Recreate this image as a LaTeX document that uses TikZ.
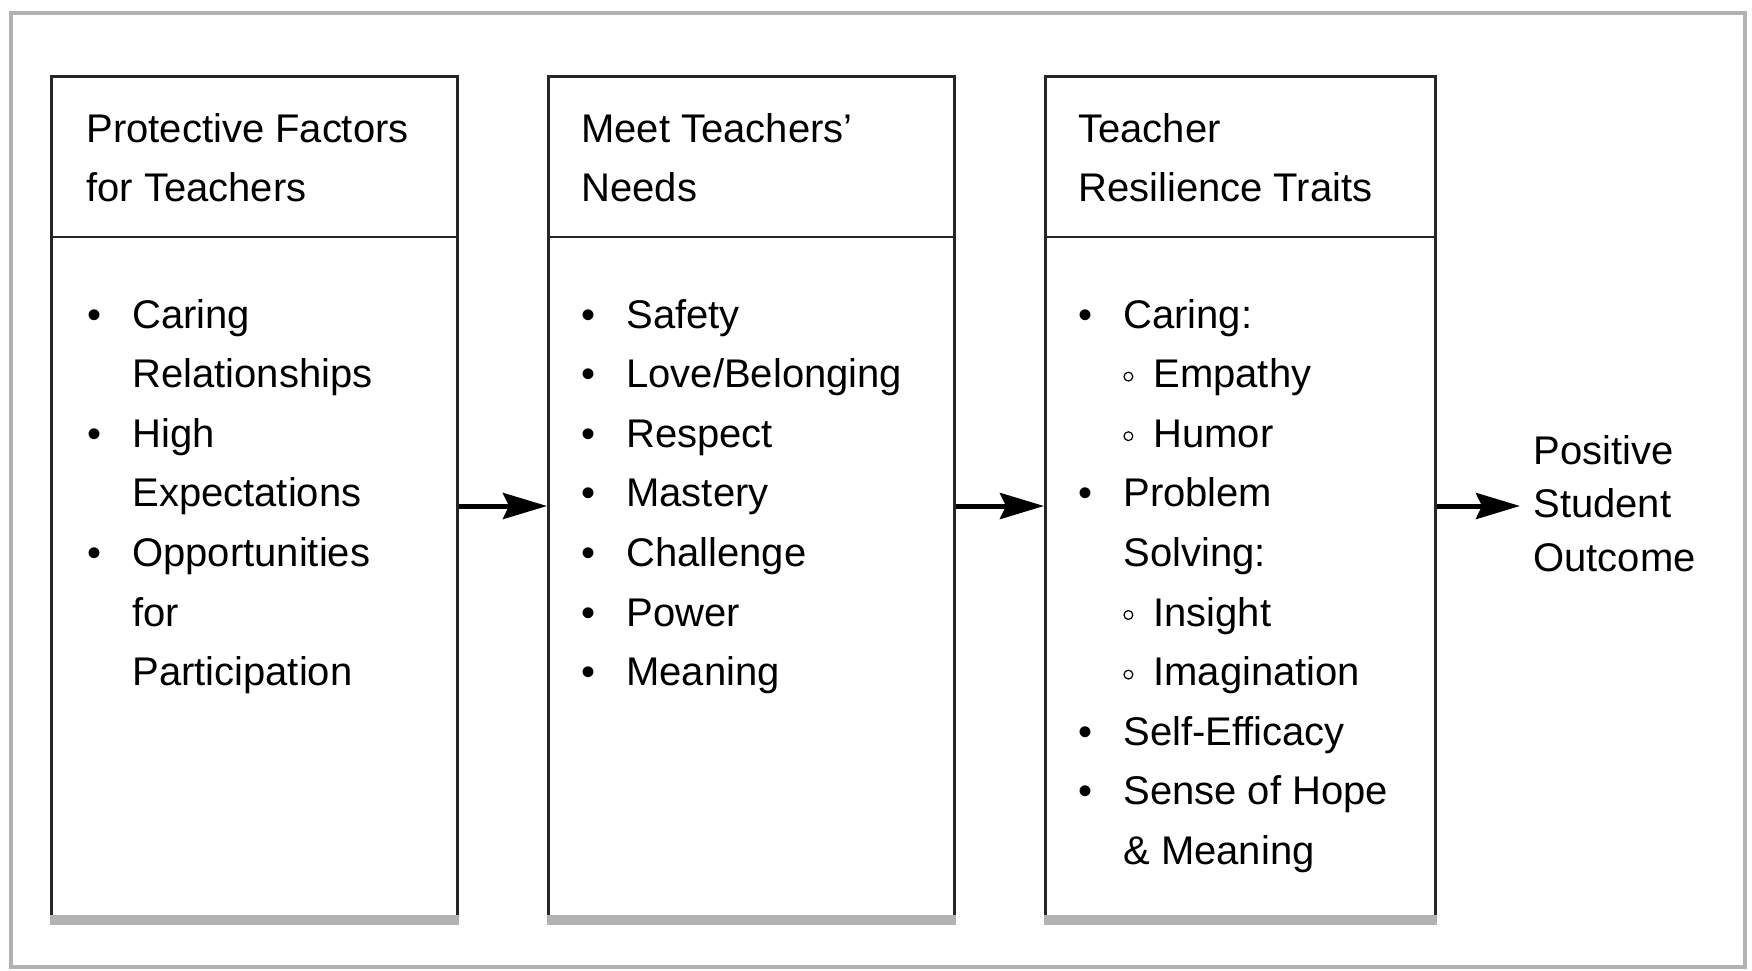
\documentclass[tikz,border=0pt]{standalone}
\usepackage{fontspec}
\setmainfont{Liberation Sans}
\usetikzlibrary{arrows.meta}
\newcommand\mybul{\makebox[19pt][l]{\hspace{-3.5pt}\textbullet}}
\newcommand\subbul{\makebox[15pt][l]{\tikz[baseline=0pt]\draw[line width=0.6pt] (2.5pt,5.5pt) circle (2.2pt);}}
\begin{document}
\begin{tikzpicture}[x=0.5pt,y=-0.5pt,
  frame/.style={draw=black!30,line width=2pt},
  box/.style={draw=black!85,line width=1.3pt,inner sep=0pt,anchor=north west,minimum height=420.5pt},
  boxline/.style={draw=black!85,line width=1.3pt},
  shade/.style={draw=black!30,line width=5pt},
  txt/.style={inner sep=0pt,anchor=base west,font=\fontsize{20}{29.8}\selectfont},
  arr/.style={line width=2.5pt,-{Stealth[length=22pt,width=13pt,inset=3pt]}}]
\useasboundingbox (0,0) rectangle (1752,970);
\draw[frame] (11,13) rectangle (1745,967);
\coordinate (hy) at (0,237);
\coordinate (ay) at (0,506);
\coordinate (sy) at (0,920);
\node[box,minimum width=203pt] (b1) at (50,75) {};
\node[box,minimum width=203pt] (b2) at (547,75) {};
\node[box,minimum width=195pt] (b3) at (1044,75) {};
\foreach \b in {b1,b2,b3} {
  \draw[boxline] (\b.west |- hy) -- (\b.east |- hy);
  \draw[shade] (\b.west |- sy) -- (\b.east |- sy);
}
\node[txt] (h1) at (86,142) {\begin{tabular}[t]{@{}l@{}}Protective Factors\\for Teachers\end{tabular}};
\node[txt] (h2) at (581,142) {\begin{tabular}[t]{@{}l@{}}Meet Teachers'\\Needs\end{tabular}};
\node[txt] (h3) at (1078,142) {\begin{tabular}[t]{@{}l@{}}Teacher\\Resilience Traits\end{tabular}};
\node[txt] (l1) at (94,328) {\begin{tabular}[t]{@{}l@{}l@{}}
\mybul & Caring\\ & Relationships\\ \mybul & High\\ & Expectations\\ \mybul & Opportunities\\ & for\\ & Participation
\end{tabular}};
\node[txt] (l2) at (588,328) {\begin{tabular}[t]{@{}l@{}l@{}}
\mybul & Safety\\ \mybul & Love/Belonging\\ \mybul & Respect\\ \mybul & Mastery\\ \mybul & Challenge\\ \mybul & Power\\ \mybul & Meaning
\end{tabular}};
\node[txt] (l3) at (1085,328) {\begin{tabular}[t]{@{}l@{}l@{}}
\mybul & Caring:\\ & \subbul Empathy\\ & \subbul Humor\\ \mybul & Problem\\ & Solving:\\ & \subbul Insight\\ & \subbul Imagination\\ \mybul & Self-Efficacy\\ \mybul & Sense of Hope\\ & \& Meaning
\end{tabular}};
\node[txt,font=\fontsize{20}{26.8}\selectfont] (out) at (1533,464) {\begin{tabular}[t]{@{}l@{}}Positive\\Student\\Outcome\end{tabular}};
\draw[arr] (b1.east |- ay) -- (b2.west |- ay);
\draw[arr] (b2.east |- ay) -- (b3.west |- ay);
\draw[arr,shorten >=6.5pt] (b3.east |- ay) -- (out.west |- ay);
\end{tikzpicture}
\end{document}
